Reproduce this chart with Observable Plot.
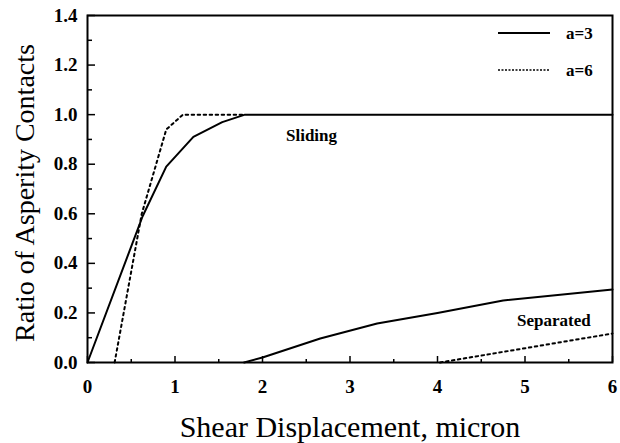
<!DOCTYPE html>
<html>
<head>
<meta charset="utf-8">
<script src="https://cdn.jsdelivr.net/npm/d3@7"></script>
<script src="https://cdn.jsdelivr.net/npm/@observablehq/plot@0.6"></script>
<style>
  html, body { margin: 0; padding: 0; background: #fff; }
  svg { font-family: "Liberation Serif", "Times New Roman", serif; }
</style>
</head>
<body>
<div id="chart"></div>
<script>
// Sliding contacts
const slideA3X = [0, 0.63, 0.9, 1.21, 1.54, 1.8, 6];
const slideA3Y = [0, 0.59, 0.79, 0.91, 0.97, 1.0, 1.0];
const slideA6X = [0.31, 0.62, 0.9, 1.09, 1.8];
const slideA6Y = [0, 0.6, 0.94, 1.0, 1.0];
// Separated contacts
const sepA3X = [1.79, 2.0, 2.66, 3.31, 4.0, 4.75, 6];
const sepA3Y = [0, 0.02, 0.097, 0.157, 0.2, 0.25, 0.295];
const sepA6X = [4.03, 6];
const sepA6Y = [0, 0.117];
// labels
const seriesNames = ["a=3", "a=6"];
const annotations = [
  {x: 2.56, y: 0.915, text: "Sliding"},
  {x: 5.33, y: 0.17, text: "Separated"}
];
const xTicks = [0, 1, 2, 3, 4, 5, 6];
const xMinor = [0.5, 1.5, 2.5, 3.5, 4.5, 5.5];
const yTicks = [0, 0.2, 0.4, 0.6, 0.8, 1.0, 1.2, 1.4];
const yMinor = [0.1, 0.3, 0.5, 0.7, 0.9, 1.1, 1.3];

const FONT = "Liberation Serif, Times New Roman, serif";
const toPts = (xs, ys) => xs.map((x, i) => ({x, y: ys[i]}));

const chart = Plot.plot({
  width: 620,
  height: 443,
  marginLeft: 87,
  marginRight: 8,
  marginTop: 15,
  marginBottom: 81,
  style: {fontFamily: FONT, background: "#fff"},
  x: {domain: [0, 6]},
  y: {domain: [0, 1.4]},
  marks: [
    Plot.frame({stroke: "#000", strokeWidth: 2}),
    Plot.axisX(xTicks, {tickSize: 0, tickPadding: 17, tickFormat: d => String(d), fontSize: 19, fontWeight: "bold", fontFamily: FONT, label: null}),
    Plot.axisX(xTicks, {tickSize: -6, tickFormat: () => "", strokeWidth: 1.5, label: null}),
    Plot.axisX(xMinor, {tickSize: -3, tickFormat: () => "", strokeWidth: 1.5, label: null}),
    Plot.axisY(yTicks, {tickSize: 0, tickPadding: 10, tickFormat: d => d.toFixed(1), fontSize: 19, fontWeight: "bold", fontFamily: FONT, label: null}),
    Plot.axisY(yTicks, {tickSize: -8, tickFormat: () => "", strokeWidth: 1.5, label: null}),
    Plot.axisY(yMinor, {tickSize: -5, tickFormat: () => "", strokeWidth: 1.5, label: null}),
    Plot.line(toPts(slideA3X, slideA3Y), {x: "x", y: "y", stroke: "#000", strokeWidth: 2}),
    Plot.line(toPts(slideA6X, slideA6Y), {x: "x", y: "y", stroke: "#000", strokeWidth: 2, strokeDasharray: "2.5,3.5"}),
    Plot.line(toPts(sepA3X, sepA3Y), {x: "x", y: "y", stroke: "#000", strokeWidth: 2}),
    Plot.line(toPts(sepA6X, sepA6Y), {x: "x", y: "y", stroke: "#000", strokeWidth: 2, strokeDasharray: "2.5,3.5"}),
    Plot.text(annotations, {x: "x", y: "y", text: "text", fontSize: 17, fontWeight: "bold", fontFamily: FONT, fill: "#000"}),
    Plot.text(["Ratio of Asperity Contacts"], {frameAnchor: "left", text: d => d, rotate: -90, textAnchor: "middle", lineAnchor: "middle", dx: -62, dy: 4, fontSize: 28, fontFamily: FONT, fill: "#000"}),
    Plot.text(["Shear Displacement, micron"], {frameAnchor: "bottom", text: d => d, dx: 0, dy: 74, fontSize: 30, fontFamily: FONT, fill: "#000"})
  ]
});

document.getElementById("chart").appendChild(chart);

// legend (top right, inside frame)
const svg = d3.select(chart);
const legend = svg.append("g").attr("font-family", FONT).attr("text-anchor", "start");
seriesNames.forEach((name, i) => {
  const y = 33 + i * 37;
  legend.append("line")
    .attr("x1", 498).attr("x2", 550).attr("y1", y).attr("y2", y)
    .attr("stroke", "#000").attr("stroke-width", i === 0 ? 2 : 1.5)
    .attr("stroke-dasharray", i === 0 ? null : "2,1.5");
  legend.append("text")
    .attr("x", 566).attr("y", y).attr("dy", "0.35em")
    .attr("text-anchor", "start")
    .attr("font-size", 17).attr("font-weight", "bold")
    .text(name);
});
</script>
</body>
</html>
